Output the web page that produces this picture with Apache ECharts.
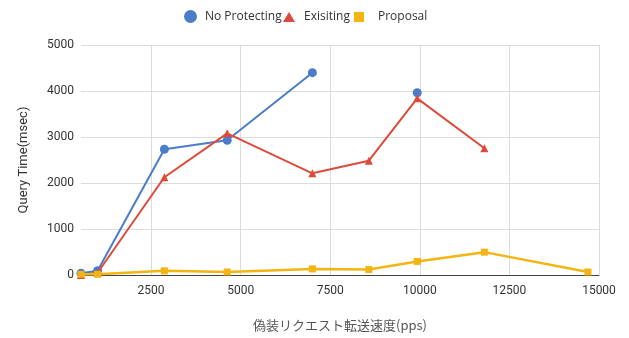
<!DOCTYPE html>
<html>
<head>
<meta charset="utf-8">
<script src="https://cdn.jsdelivr.net/npm/echarts@6/dist/echarts.min.js"></script>
<style>
  html, body { margin: 0; padding: 0; background: #fff; }
  #chart { width: 629px; height: 338px; }
</style>
</head>
<body>
<div id="chart"></div>
<script>
// Forged request rate (pps) at each measurement
const speeds = [545, 1008, 2872, 4625, 7002, 8577, 9927, 11801, 14692];
// Query time (msec) per method; null = not measured
const noProtecting = [37, 93, 2733, 2928, 4398, null, 3963, null, null];
const existing = [0, 50, 2124, 3080, 2210, 2485, 3840, 2754, null];
const proposal = [15, 15, 90, 65, 133, 120, 295, 497, 65];

const xTicks = [2500, 5000, 7500, 10000, 12500, 15000];

const pair = ys => speeds.map((x, i) => [x, ys[i]]);

const colors = { blue: '#4a7cca', red: '#de4a3a', yellow: '#f4b412' };

const chart = echarts.init(document.getElementById('chart'), null, { renderer: 'canvas' });

const legendText = pad => ({ fontFamily: 'Open Sans', fontSize: 12, color: '#333', padding: [0, 0, 0, pad] });
const legendBase = {
  padding: 0, itemWidth: 12, itemHeight: 12, itemGap: 0, selectedMode: false
};

const plain = v => String(v);

chart.setOption({
  animation: false,
  legend: [
    Object.assign({}, legendBase, { left: 184, top: 10, data: [{ name: 'No Protecting', icon: 'circle' }], itemWidth: 13, itemHeight: 13, textStyle: legendText(3) }),
    Object.assign({}, legendBase, { left: 283, top: 11, data: [{ name: 'Exisiting', icon: 'triangle' }], itemHeight: 10, textStyle: legendText(4) }),
    Object.assign({}, legendBase, { left: 354, top: 11, data: [{ name: 'Proposal', icon: 'rect' }], itemWidth: 10, itemHeight: 10, textStyle: legendText(9) })
  ],
  grid: { left: 81, right: 30, top: 45, bottom: 63 },
  xAxis: {
    type: 'value',
    min: speeds[0],
    max: 15000,
    name: '偽装リクエスト転送速度(pps)',
    nameLocation: 'middle',
    nameGap: 44,
    nameTextStyle: { fontFamily: 'Noto Sans CJK JP', fontSize: 13, color: '#555' },
    axisLine: { show: true, lineStyle: { color: '#444', width: 1 } },
    axisTick: { show: false, customValues: xTicks },
    axisLabel: { customValues: xTicks, formatter: plain, fontFamily: 'Roboto', fontSize: 12, color: '#333', margin: 10 },
    splitLine: { show: true, lineStyle: { color: '#dcdcdc', width: 1 } }
  },
  yAxis: {
    type: 'value',
    min: 0,
    max: 5000,
    interval: 1000,
    name: 'Query Time(msec)',
    nameLocation: 'middle',
    nameGap: 51,
    nameTextStyle: { fontFamily: 'Roboto', fontSize: 13, color: '#333' },
    axisLine: { show: false },
    axisTick: { show: false },
    axisLabel: { formatter: plain, fontFamily: 'Roboto', fontSize: 12, color: '#333', margin: 7 },
    splitLine: { show: true, lineStyle: { color: '#dcdcdc', width: 1 } }
  },
  series: [
    {
      name: 'No Protecting', type: 'line', data: pair(noProtecting),
      symbol: 'circle', symbolSize: 9, connectNulls: false,
      itemStyle: { color: colors.blue }, lineStyle: { width: 2, color: colors.blue }, z: 3
    },
    {
      name: 'Exisiting', type: 'line', data: pair(existing),
      symbol: 'triangle', symbolSize: 8,
      itemStyle: { color: colors.red }, lineStyle: { width: 2, color: colors.red }, z: 4
    },
    {
      name: 'Proposal', type: 'line', data: pair(proposal),
      symbol: 'rect', symbolSize: 7,
      itemStyle: { color: colors.yellow }, lineStyle: { width: 2.5, color: colors.yellow }, z: 5
    }
  ]
});
</script>
</body>
</html>
